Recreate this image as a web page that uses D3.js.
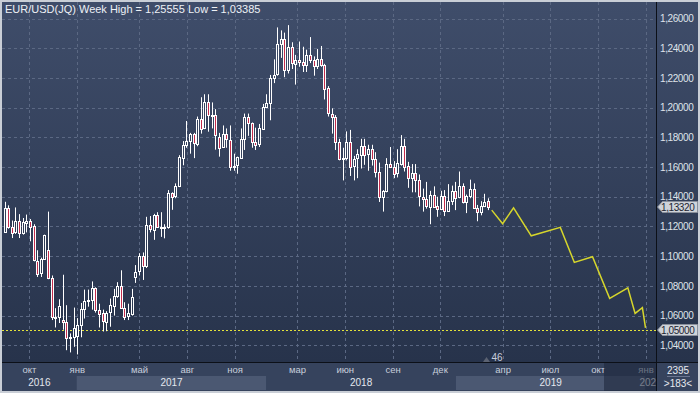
<!DOCTYPE html>
<html>
<head>
<meta charset="utf-8">
<script src="https://cdn.jsdelivr.net/npm/d3@7"></script>
<style>
  body { margin: 0; background: #c9ced6; }
  svg { display: block; font-family: "Liberation Sans", Arial, sans-serif; }
</style>
</head>
<body>
<svg id="chart" width="700" height="393"></svg>
<script>
// weekly candles, EUR/USD, first week starts 2016-08-15
var firstWeek = "2016-08-15";
var opens = [1.1165,1.1325,1.1197,1.1157,1.1234,1.1153,1.1227,1.1240,1.1200,1.0970,1.0885,1.0980,1.1040,1.0850,1.0585,1.0590,1.0570,1.0555,1.0450,1.0456,
  1.0460,1.0535,1.0643,1.0698,1.0702,1.0785,1.0640,1.0616,1.0560,1.0620,1.0670,1.0735,1.0800,1.0653,1.0593,1.0615,1.0860,1.0895,1.0998,1.0932,
  1.1207,1.1180,1.1280,1.1197,1.1199,1.1195,1.1425,1.1400,1.1470,1.1665,1.1750,1.1775,1.1820,1.1760,1.1925,1.1860,1.2035,1.1945,1.1950,1.1805,
  1.1732,1.1820,1.1785,1.1605,1.1608,1.1665,1.1790,1.1935,1.1895,1.1770,1.1750,1.1860,1.2005,1.2030,1.2200,1.2220,1.2425,1.2460,1.2250,1.2405,
  1.2295,1.2320,1.2305,1.2285,1.2355,1.2320,1.2280,1.2330,1.2290,1.2130,1.1960,1.1940,1.1770,1.1655,1.1660,1.1770,1.1605,1.1655,1.1685,1.1745,
  1.1685,1.1720,1.1655,1.1565,1.1400,1.1440,1.1620,1.1600,1.1555,1.1625,1.1745,1.1605,1.1525,1.1560,1.1510,1.1400,1.1385,1.1335,1.1415,1.1335,
  1.1315,1.1405,1.1305,1.1370,1.1440,1.1395,1.1470,1.1365,1.1405,1.1455,1.1325,1.1295,1.1335,1.1370];
var highs = [1.1366,1.1342,1.1240,1.1328,1.1283,1.1257,1.1280,1.1250,1.1215,1.1040,1.0990,1.1145,1.1300,1.0870,1.0650,1.0710,1.0875,1.0670,1.0480,1.0654,
  1.0583,1.0685,1.0775,1.0775,1.0830,1.0790,1.0680,1.0640,1.0630,1.0715,1.0780,1.0825,1.0905,1.0690,1.0680,1.0780,1.0940,1.1020,1.1025,1.1265,
  1.1270,1.1285,1.1296,1.1296,1.1215,1.1445,1.1430,1.1490,1.1680,1.1775,1.1910,1.1830,1.1830,1.1940,1.2070,1.2090,1.2090,1.2035,1.1990,1.1830,
  1.1880,1.1860,1.1880,1.1690,1.1670,1.1860,1.1960,1.1960,1.1900,1.1865,1.1890,1.2025,1.2090,1.2220,1.2325,1.2540,1.2520,1.2505,1.25555,1.2440,
  1.2355,1.2445,1.2410,1.2390,1.2475,1.2345,1.2395,1.2415,1.2295,1.2145,1.1995,1.1950,1.1790,1.1730,1.1840,1.1850,1.1675,1.1720,1.1790,1.1790,
  1.1750,1.1750,1.1700,1.1630,1.1445,1.1660,1.1735,1.1640,1.1720,1.1815,1.1790,1.1635,1.1620,1.1620,1.1550,1.1455,1.1500,1.1440,1.1470,1.1400,
  1.1440,1.1445,1.1485,1.1475,1.1500,1.1570,1.1490,1.1415,1.1515,1.1490,1.1345,1.1370,1.1420,1.1390];
var lows = [1.1160,1.1185,1.1122,1.1150,1.1122,1.1145,1.1160,1.1100,1.0965,1.0860,1.0860,1.0975,1.0845,1.0570,1.0520,1.0550,1.0505,1.0367,1.0352,1.0390,
  1.03385,1.0454,1.0580,1.0660,1.0640,1.0620,1.0520,1.0493,1.0495,1.0525,1.0600,1.0720,1.0650,1.0570,1.0570,1.0600,1.0820,1.0870,1.0840,1.0920,
  1.1160,1.1110,1.1195,1.1130,1.1120,1.1185,1.1312,1.1390,1.1465,1.1612,1.1730,1.1690,1.1660,1.1740,1.1825,1.1855,1.1838,1.1860,1.1717,1.1670,
  1.1730,1.1730,1.1575,1.1575,1.1555,1.1655,1.1715,1.1810,1.1730,1.1715,1.1735,1.1855,1.2000,1.1915,1.2165,1.2215,1.2335,1.2205,1.2230,1.2260,
  1.2155,1.2275,1.2240,1.2240,1.2300,1.2215,1.2260,1.2275,1.2055,1.1940,1.1825,1.1715,1.1645,1.1510,1.1645,1.1540,1.1510,1.1525,1.1590,1.1615,
  1.1575,1.1610,1.1530,1.1365,1.1300,1.1430,1.1595,1.1525,1.1530,1.1610,1.1570,1.1460,1.1430,1.1430,1.1335,1.1300,1.1320,1.1215,1.1325,1.1265,
  1.1310,1.1270,1.1300,1.1345,1.1310,1.1390,1.1355,1.1290,1.1390,1.1320,1.1235,1.1275,1.1330,1.1310];
var closes = [1.1325,1.1197,1.1157,1.1234,1.1153,1.1227,1.1240,1.1200,1.0970,1.0885,1.0980,1.1140,1.0850,1.0585,1.0590,1.0662,1.0555,1.0450,1.0456,1.0517,
  1.0535,1.0643,1.0700,1.0702,1.0785,1.0640,1.0616,1.0560,1.0620,1.0670,1.0735,1.0800,1.0653,1.0593,1.0615,1.0727,1.0895,1.0998,1.0932,1.1207,
  1.1180,1.1280,1.1197,1.1199,1.1195,1.1425,1.1400,1.1470,1.1665,1.1750,1.1775,1.1820,1.1760,1.1925,1.1860,1.2035,1.1945,1.1950,1.1815,1.1732,
  1.1820,1.1785,1.1605,1.1608,1.1665,1.1790,1.1935,1.1895,1.1770,1.1750,1.1860,1.2005,1.2030,1.2200,1.2220,1.2425,1.2460,1.2250,1.2405,1.2295,
  1.2320,1.2305,1.2285,1.2355,1.2320,1.2280,1.2330,1.2290,1.2130,1.1960,1.1940,1.1770,1.1655,1.1660,1.1770,1.1605,1.1655,1.1685,1.1745,1.1685,
  1.1720,1.1655,1.1565,1.1400,1.1440,1.1620,1.1600,1.1555,1.1625,1.1745,1.1605,1.1525,1.1560,1.1510,1.1400,1.1385,1.1335,1.1415,1.1335,1.1315,
  1.1405,1.1305,1.1370,1.1440,1.1395,1.1470,1.1365,1.1405,1.1455,1.1325,1.1295,1.1335,1.1365,1.1332];

// forecast (yellow line)
var fcDates = ["2019-03-11","2019-04-01","2019-04-22","2019-05-26","2019-07-21","2019-08-17","2019-09-21","2019-10-24","2019-11-28","2019-12-12","2019-12-26","2020-01-01"];
var fcValues = [1.1310,1.1218,1.1326,1.1137,1.1194,1.0958,1.0996,1.0716,1.0787,1.0615,1.0653,1.0518];

var levelLine = 1.05;
var lastPrice = 1.1332;

// axis labels
var priceTicks = [1.04,1.06,1.08,1.10,1.12,1.14,1.16,1.18,1.20,1.22,1.24,1.26];
var monthDates = ["2016-10-01","2017-01-01","2017-05-01","2017-08-01","2017-11-01","2018-03-01","2018-06-01","2018-09-01","2018-12-01","2019-04-01","2019-07-01","2019-10-01","2020-01-01"];
var monthNames = ["окт","янв","май","авг","ноя","мар","июн","сен","дек","апр","июл","окт","янв"];
var years = [2016,2017,2018,2019,2020];

var title = "EUR/USD(JQ) Week High = 1,25555 Low = 1,03385";

var parse = d3.timeParse("%Y-%m-%d");
var t0 = parse(firstWeek);
var candles = opens.map(function(o, i) {
  return {date: d3.timeDay.offset(t0, i * 7), o: o, h: highs[i], l: lows[i], c: closes[i]};
});
var forecast = fcDates.map(function(d, i) { return {date: parse(d), v: fcValues[i]}; });

var pL = 2, pR = 656, pT = 2, pB = 362, axB = 391;

var x = d3.scaleTime()
  .domain([t0, parse("2020-01-01")])
  .range([4.5, 645.5]);
var y = d3.scaleLinear()
  .domain([1.04, 1.26])
  .range([345.3, 18.5]);

var fmt = function(v) { return v.toFixed(5).replace(".", ","); };

var svg = d3.select("#chart");
var defs = svg.append("defs");
var grad = defs.append("linearGradient")
  .attr("id", "bg").attr("gradientUnits", "userSpaceOnUse")
  .attr("x1", 0).attr("y1", pT).attr("x2", 0).attr("y2", pB);
grad.append("stop").attr("offset", 0).attr("stop-color", "#3f4d6a");
grad.append("stop").attr("offset", 1).attr("stop-color", "#27334b");
defs.append("clipPath").attr("id", "plotclip")
  .append("rect").attr("x", pL).attr("y", pT).attr("width", pR - pL).attr("height", pB - pT);
defs.append("clipPath").attr("id", "axisclip")
  .append("rect").attr("x", pL).attr("y", pB).attr("width", pR - pL).attr("height", axB - pB);

// outer frame + panels
svg.append("rect").attr("width", 700).attr("height", 393).attr("fill", "#c9ced6");
svg.append("rect").attr("x", pL).attr("y", pT).attr("width", 696).attr("height", pB - pT).attr("fill", "url(#bg)");
svg.append("rect").attr("x", pL).attr("y", pB).attr("width", 696).attr("height", axB - pB).attr("fill", "#36435d");

// year bands
var axisG = svg.append("g").attr("clip-path", "url(#axisclip)");
axisG.selectAll("rect.yr").data(years).enter().append("rect")
  .attr("x", function(d) { return x(new Date(d, 0, 1)); })
  .attr("width", function(d) { return x(new Date(d + 1, 0, 1)) - x(new Date(d, 0, 1)); })
  .attr("y", 376).attr("height", 14)
  .attr("fill", function(d) { return d % 2 ? "#4b5872" : "#36435d"; });

// grid
var plot = svg.append("g").attr("clip-path", "url(#plotclip)");
plot.selectAll("line.hg").data(priceTicks).enter().append("line")
  .attr("x1", pL).attr("x2", pR)
  .attr("y1", function(d) { return Math.round(y(d)) + 0.5; })
  .attr("y2", function(d) { return Math.round(y(d)) + 0.5; })
  .attr("stroke", "#5b6883").attr("stroke-dasharray", "3,3");
plot.selectAll("line.vg").data(monthDates).enter().append("line")
  .attr("x1", function(d) { return Math.round(x(parse(d))) + 0.5; })
  .attr("x2", function(d) { return Math.round(x(parse(d))) + 0.5; })
  .attr("y1", pT).attr("y2", pB)
  .attr("stroke", "#5b6883").attr("stroke-dasharray", "3,3");

// 1.05 level
plot.append("line")
  .attr("x1", pL).attr("x2", pR)
  .attr("y1", Math.round(y(levelLine)) + 0.5).attr("y2", Math.round(y(levelLine)) + 0.5)
  .attr("stroke", "#e4e43a").attr("stroke-dasharray", "2,2");

// candles
var cg = plot.selectAll("g.c").data(candles).enter().append("g");
cg.append("line")
  .attr("x1", function(d) { return Math.round(x(d.date)) + 0.5; })
  .attr("x2", function(d) { return Math.round(x(d.date)) + 0.5; })
  .attr("y1", function(d) { return y(d.h); })
  .attr("y2", function(d) { return y(d.l); })
  .attr("stroke", "#ffffff");
cg.append("rect")
  .attr("x", function(d) { return Math.round(x(d.date)) - 0.5; })
  .attr("width", 2)
  .attr("y", function(d) { return Math.round(y(Math.max(d.o, d.c))) + 0.5; })
  .attr("height", function(d) { return Math.max(1, Math.round(Math.abs(y(d.o) - y(d.c)))); })
  .attr("fill", function(d) { return d.c >= d.o ? "url(#bg)" : "#c32c4c"; })
  .attr("stroke", "#ffffff");

// forecast
plot.append("path").datum(forecast)
  .attr("fill", "none").attr("stroke", "#d6d62c").attr("stroke-width", 1.5)
  .attr("d", d3.line().x(function(d) { return x(d.date); }).y(function(d) { return y(d.v); }));

// separators
svg.append("line").attr("x1", pR + 0.5).attr("x2", pR + 0.5).attr("y1", pT).attr("y2", axB).attr("stroke", "#0c1018");
svg.append("line").attr("x1", pL).attr("x2", 698).attr("y1", pB + 0.5).attr("y2", pB + 0.5).attr("stroke", "#0c1018");

// title
svg.append("text").attr("x", 5).attr("y", 13).attr("fill", "#eef1f6").attr("font-size", 11).text(title);

// price axis
var yAxis = d3.axisRight(y).tickValues(priceTicks).tickSize(0).tickPadding(0).tickFormat(fmt);
svg.append("g").attr("transform", "translate(660,0)").call(yAxis)
  .call(function(g) { g.select(".domain").remove(); })
  .selectAll("text").attr("fill", "#dfe3ea").attr("font-size", 10)
  .style("font-family", "'Liberation Sans', Arial, sans-serif").attr("letter-spacing", "-0.4");

// price tags
function tag(v) {
  var yy = Math.round(y(v));
  var g = svg.append("g").attr("transform", "translate(0," + yy + ")");
  g.append("path").attr("d", "M657.5,0 L662.5,-5.5 L697.5,-5.5 L697.5,5.5 L662.5,5.5 Z")
    .attr("fill", "#cfd3d9").attr("stroke", "#8a909c");
  g.append("text").attr("x", 661).attr("y", 3.6).attr("fill", "#1d2431").attr("font-size", 10)
    .attr("letter-spacing", "-0.4").text(fmt(v));
}
tag(lastPrice);
tag(levelLine);

// time axis
var xAxis = d3.axisBottom(x).tickValues(monthDates.map(parse)).tickSize(0).tickPadding(0)
  .tickFormat(function(d, i) { return monthNames[i]; });
var xg = axisG.append("g").attr("transform", "translate(0,366)").call(xAxis);
xg.select(".domain").remove();
xg.selectAll("text").attr("fill", "#c7cedb").attr("font-size", 9.5).attr("dy", "0.71em")
  .style("font-family", "'Liberation Sans', Arial, sans-serif");

axisG.selectAll("text.yl").data(years).enter().append("text")
  .attr("x", function(d) {
    var a = Math.max(pL, x(new Date(d, 0, 1)));
    var b = Math.min(pR, x(new Date(d + 1, 0, 1)));
    return d === 2020 ? x(new Date(d, 0, 1)) + 5 : (a + b) / 2;
  })
  .attr("y", 386).attr("text-anchor", "middle").attr("fill", "#e3e7ee").attr("font-size", 10)
  .text(function(d) { return d; });

// scroll overlay on right part of time axis
svg.append("rect").attr("x", 604).attr("y", pB + 1).attr("width", pR - 604).attr("height", axB - pB - 1)
  .attr("fill", "#1c2538").attr("opacity", 0.55);

// 46 marker
svg.append("path").attr("d", "M483,362 L486.5,357 L490,362 Z").attr("fill", "#5b6272");
svg.append("text").attr("x", 497).attr("y", 361).attr("text-anchor", "middle").attr("fill", "#c7cedb").attr("font-size", 10).text("46");

// bar counter box
svg.append("text").attr("x", 678).attr("y", 374).attr("text-anchor", "middle").attr("fill", "#e6e9ef").attr("font-size", 10).text("2395");
svg.append("line").attr("x1", 667).attr("x2", 690).attr("y1", 376.5).attr("y2", 376.5).attr("stroke", "#6a7590");
svg.append("text").attr("x", 678).attr("y", 387).attr("text-anchor", "middle").attr("fill", "#e6e9ef").attr("font-size", 10).text(">183<");
</script>
</body>
</html>
